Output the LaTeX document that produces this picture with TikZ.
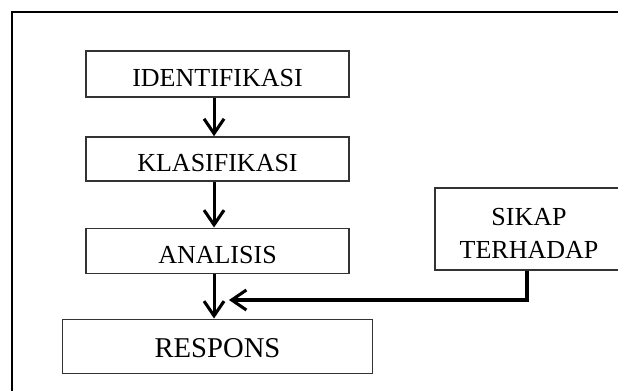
\documentclass[tikz,border=0pt]{standalone}
\usepackage{fontspec}
\setmainfont{Liberation Serif}
\usetikzlibrary{arrows.meta}

\tikzset{
  flowbox/.style={draw=black!80, line width=1.2pt, inner sep=0pt,
    text height=18.5pt, text depth=0pt,
    font=\fontsize{19.5}{25.5}\selectfont},
  flowarrow/.style={line width=2.3pt, -{Straight Barb[length=11pt,width=15pt]}},
}

\begin{document}
\begin{tikzpicture}[x=0.75pt,y=0.75pt,yscale=-1,xscale=1]
\useasboundingbox (0,0) rectangle (618,390);
\clip (0,0) rectangle (618,390);

% outer frame (right and bottom sides lie outside the picture)
\draw [line width=1.5pt] (12,11.7) rectangle (650,420);

% Boxes
\node [flowbox, minimum width=197.25pt, minimum height=34.5pt] (ident) at (217.5,73.7) {IDENTIFIKASI};
\node [flowbox, minimum width=197.25pt, minimum height=33pt] (klas) at (217.5,159) {KLASIFIKASI};
\node [flowbox, minimum width=197.25pt, minimum height=33.75pt] (anal) at (217.5,250.8) {ANALISIS};
\node [flowbox, minimum width=232.5pt, minimum height=40.5pt, text height=17.5pt, font=\fontsize{21.5}{26}\selectfont] (resp) at (217.5,346.3) {RESPONS};
\node [flowbox, minimum width=141pt, minimum height=61.5pt, align=center, text height=44pt] (sikap) at (529,229.2) {SIKAP\\[-0.5pt]TERHADAP};

% free end of the side connector
\coordinate (join) at (229,300);

% Connectors
\draw [flowarrow] ([xshift=-2.6pt]ident.south) -- ([xshift=-2.6pt]klas.north);
\draw [flowarrow] ([xshift=-2.6pt]klas.south) -- ([xshift=-2.6pt]anal.north);
\draw [flowarrow] ([xshift=-2.6pt]anal.south) -- ([xshift=-2.6pt]resp.north);
\draw [flowarrow] ([xshift=-1.5pt]sikap.south) |- (join);
\end{tikzpicture}
\end{document}
